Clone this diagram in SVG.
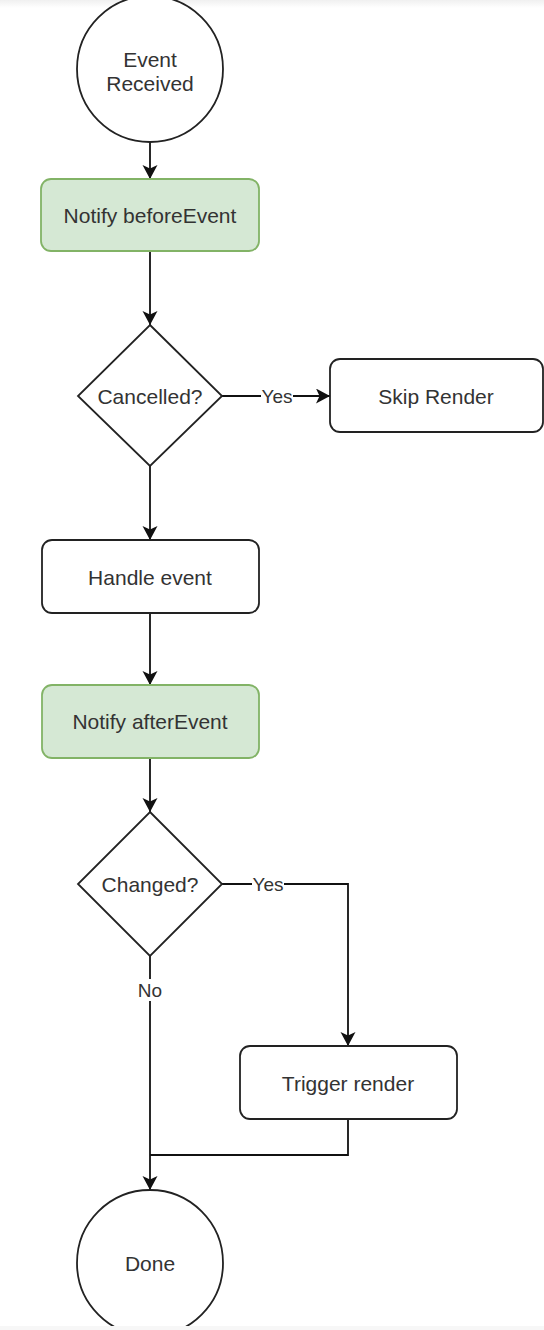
<svg xmlns="http://www.w3.org/2000/svg" width="544" height="1330" viewBox="0 0 544 1330">
  <defs>
    <marker id="arrow" markerWidth="16" markerHeight="16" viewBox="0 0 16 16" refX="14" refY="7.5" orient="auto" markerUnits="userSpaceOnUse">
      <path d="M0,0 L14,7.5 L0,15 L3.5,7.5 Z" fill="#111"/>
    </marker>
    <linearGradient id="topfade" x1="0" y1="0" x2="0" y2="1">
      <stop offset="0" stop-color="#f0f0f0"/>
      <stop offset="1" stop-color="#ffffff"/>
    </linearGradient>
  </defs>
  <style>
    .shape { fill: #ffffff; stroke: #222222; stroke-width: 1.8; }
    .green { fill: #d5e8d4; stroke: #82b366; stroke-width: 1.8; }
    .txt { font-family: "Liberation Sans", Arial, sans-serif; font-size: 21px; fill: #333333; text-anchor: middle; dominant-baseline: central; }
    .lbl { font-family: "Liberation Sans", Arial, sans-serif; font-size: 19px; fill: #333333; text-anchor: middle; dominant-baseline: central; }
    .edge { fill: none; stroke: #111111; stroke-width: 1.8; }
    .arr { marker-end: url(#arrow); }
  </style>
  <rect x="0" y="0" width="544" height="1330" fill="#ffffff"/>
  <rect x="0" y="0" width="544" height="8" fill="url(#topfade)"/>

  <g id="connectors">
    <line class="edge arr" x1="150" y1="142" x2="150" y2="179"/>
    <line class="edge arr" x1="150" y1="251" x2="150" y2="325"/>
    <line class="edge arr" x1="222" y1="396" x2="330" y2="396"/>
    <line class="edge arr" x1="150" y1="466" x2="150" y2="540"/>
    <line class="edge arr" x1="150" y1="613" x2="150" y2="685"/>
    <line class="edge arr" x1="150" y1="758" x2="150" y2="812"/>
    <polyline class="edge arr" points="222,884 348,884 348,1046"/>
    <line class="edge arr" x1="150" y1="956" x2="150" y2="1190"/>
    <polyline class="edge" points="348,1119 348,1155 150,1155"/>
    <rect x="261" y="385" width="32" height="22" fill="#ffffff"/>
    <text class="lbl" x="277" y="396">Yes</text>
    <rect x="252" y="873" width="32" height="22" fill="#ffffff"/>
    <text class="lbl" x="268" y="884">Yes</text>
    <rect x="137" y="979" width="26" height="22" fill="#ffffff"/>
    <text class="lbl" x="150" y="990">No</text>
  </g>

  <g id="event-received">
    <circle class="shape" cx="150" cy="69" r="73"/>
    <text class="txt" x="150" y="59">Event</text>
    <text class="txt" x="150" y="83">Received</text>
  </g>
  <g id="notify-before">
    <rect class="green" x="41" y="179" width="218" height="72" rx="10"/>
    <text class="txt" x="150" y="215">Notify beforeEvent</text>
  </g>
  <g id="cancelled">
    <polygon class="shape" points="150,325 222,396 150,466 78,396"/>
    <text class="txt" x="150" y="396">Cancelled?</text>
  </g>
  <g id="skip-render">
    <rect class="shape" x="330" y="359" width="213" height="73" rx="10"/>
    <text class="txt" x="436" y="396">Skip Render</text>
  </g>
  <g id="handle-event">
    <rect class="shape" x="42" y="540" width="217" height="73" rx="10"/>
    <text class="txt" x="150" y="577">Handle event</text>
  </g>
  <g id="notify-after">
    <rect class="green" x="42" y="685" width="217" height="73" rx="10"/>
    <text class="txt" x="150" y="721">Notify afterEvent</text>
  </g>
  <g id="changed">
    <polygon class="shape" points="150,812 222,884 150,956 78,884"/>
    <text class="txt" x="150" y="884">Changed?</text>
  </g>
  <g id="trigger-render">
    <rect class="shape" x="240" y="1046" width="217" height="73" rx="10"/>
    <text class="txt" x="348" y="1083">Trigger render</text>
  </g>
  <g id="done">
    <circle class="shape" cx="150" cy="1263" r="73"/>
    <text class="txt" x="150" y="1263">Done</text>
  </g>
  <rect x="0" y="1326" width="544" height="4" fill="#f7f7f7"/>
</svg>
